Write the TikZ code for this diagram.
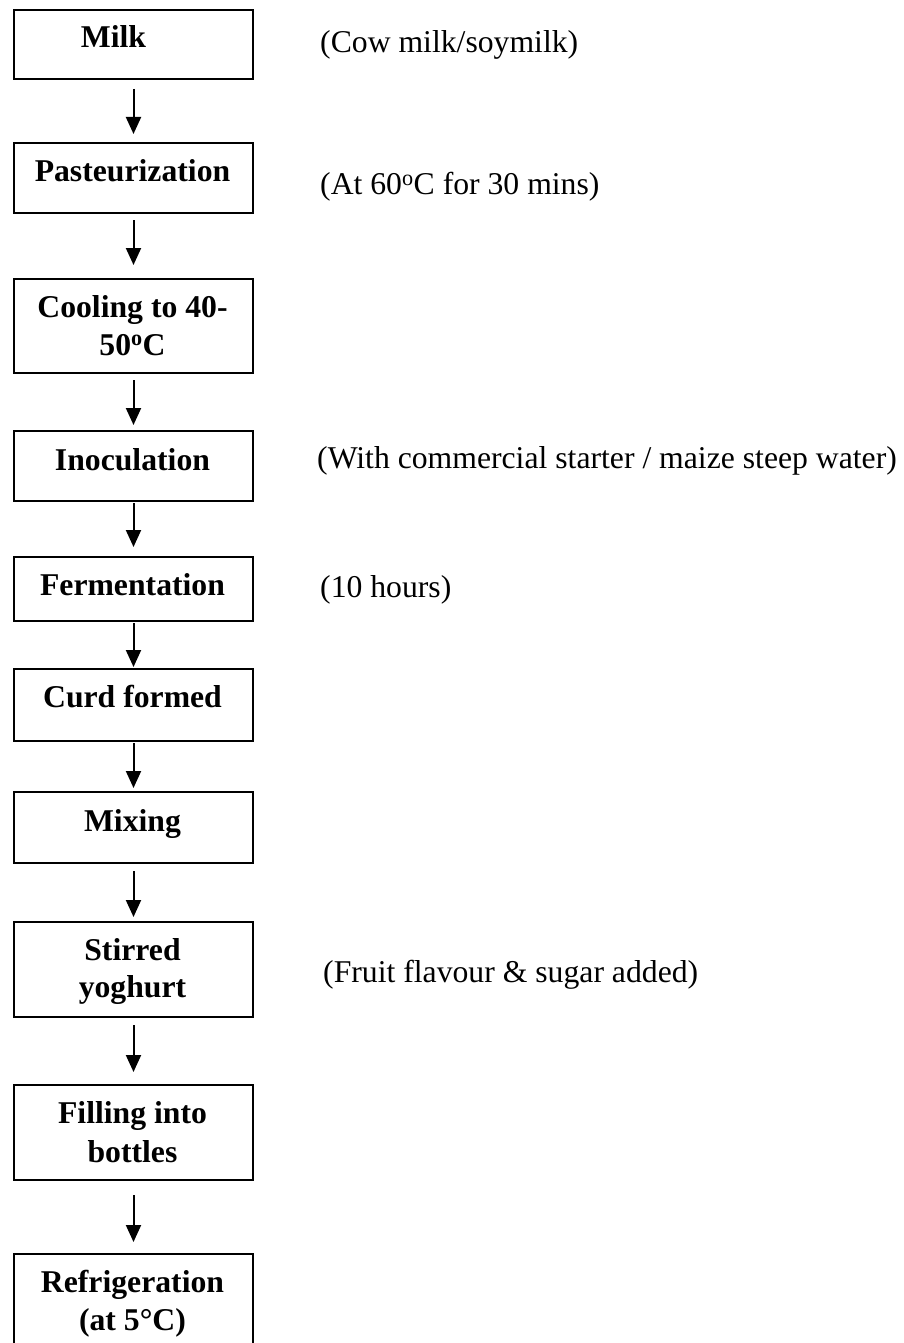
\documentclass[tikz,border=0pt]{standalone}
\usepackage{fontspec}
\setmainfont{Liberation Serif}
\usetikzlibrary{arrows.meta}
\begin{document}
\fontsize{31.7}{38}\selectfont
\begin{tikzpicture}[x=1pt,y=-1pt,
  stepbox/.style={draw, line width=2pt, minimum width=239pt, inner sep=0pt, anchor=north west},
  boxtxt/.style={font=\fontsize{31.7}{38}\selectfont\bfseries, anchor=base, inner sep=0pt},
  note/.style={font=\fontsize{31.7}{38}\selectfont, anchor=base west, inner sep=0pt},
  flow/.style={-{Triangle[width=15pt,length=17pt]}, line width=2pt}]
\useasboundingbox (0,0) rectangle (904,1343);
\begin{scope}
\clip (0,0) rectangle (904,1343);
% boxes
\node[stepbox, minimum height=69pt] (milk) at (13,9) {};
\node[stepbox, minimum height=70pt] (past) at (13,142) {};
\node[stepbox, minimum height=94pt] (cool) at (13,278) {};
\node[stepbox, minimum height=70pt] (inoc) at (13,430) {};
\node[stepbox, minimum height=64pt] (ferm) at (13,556) {};
\node[stepbox, minimum height=72pt] (curd) at (13,668) {};
\node[stepbox, minimum height=71pt] (mix) at (13,791) {};
\node[stepbox, minimum height=95pt] (stir) at (13,921) {};
\node[stepbox, minimum height=95pt] (fill) at (13,1084) {};
\node[stepbox, minimum height=120pt] (refr) at (13,1253) {};
\end{scope}
% box texts
\node[boxtxt] (tmilk) at (113.5,48) {Milk};
\node[boxtxt] (tpast) at (132.5,182) {Pasteurization};
\node[boxtxt] (tcoola) at (132.5,317) {Cooling to 40-};
\node[boxtxt] (tcoolb) at (132.5,355) {50\textsuperscript{o}C};
\node[boxtxt] (tinoc) at (132.5,470) {Inoculation};
\node[boxtxt] (tferm) at (132.5,595) {Fermentation};
\node[boxtxt] (tcurd) at (132.5,707) {Curd formed};
\node[boxtxt] (tmix) at (132.5,831) {Mixing};
\node[boxtxt] (tstira) at (132.5,960) {Stirred};
\node[boxtxt] (tstirb) at (132.5,997) {yoghurt};
\node[boxtxt] (tfilla) at (132.5,1123) {Filling into};
\node[boxtxt] (tfillb) at (132.5,1162) {bottles};
\node[boxtxt] (trefra) at (132.5,1292) {Refrigeration};
\node[boxtxt] (trefrb) at (132.5,1330) {(at 5°C)};
% side notes
\node[note] (ncow) at (320,53) {(Cow milk/soymilk)};
\node[note] (nat) at (320,195) {(At 60\textsuperscript{o}C for 30 mins)};
\node[note] (nwith) at (317,468) {(With commercial starter / maize steep water)};
\node[note] (nten) at (320,597) {(10 hours)};
\node[note] (nfruit) at (323,982) {(Fruit flavour \& sugar added)};
% arrows
\draw[flow] ([yshift=-9pt]milk.south) -- ([yshift=8pt]past.north);
\draw[flow] ([yshift=-6pt]past.south) -- ([yshift=13pt]cool.north);
\draw[flow] ([yshift=-6pt]cool.south) -- ([yshift=5pt]inoc.north);
\draw[flow] ([yshift=-1pt]inoc.south) -- ([yshift=9pt]ferm.north);
\draw[flow] ([yshift=-1pt]ferm.south) -- ([yshift=1pt]curd.north);
\draw[flow] ([yshift=-1pt]curd.south) -- ([yshift=3pt]mix.north);
\draw[flow] ([yshift=-7pt]mix.south) -- ([yshift=4pt]stir.north);
\draw[flow] ([yshift=-7pt]stir.south) -- ([yshift=12pt]fill.north);
\draw[flow] ([yshift=-14pt]fill.south) -- ([yshift=11pt]refr.north);
\end{tikzpicture}
\end{document}
